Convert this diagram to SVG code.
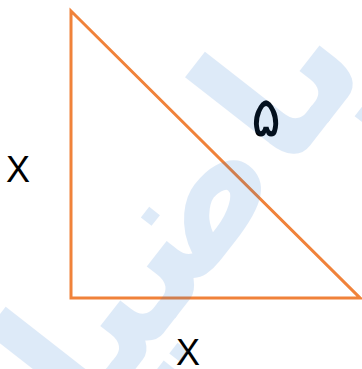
<svg xmlns="http://www.w3.org/2000/svg" width="362" height="369" viewBox="0 0 362 369">
<style>
.lbl{font-family:"Liberation Sans",Arial,sans-serif;font-size:36px;fill:#000}
.wm{font-family:"DejaVu Sans",sans-serif;font-weight:bold;font-size:185px;fill:#1a6fd0}
</style>
<rect width="362" height="369" fill="#fff"/>
<g id="triangle">
<polygon points="71,11 71,298 360,298" fill="none" stroke="#f0823a" stroke-width="3" stroke-linejoin="miter"/>
</g>
<g id="labels">
<text class="lbl" x="6" y="182">X</text>
<text class="lbl" x="176" y="365">X</text>
<text x="266" y="136" text-anchor="middle" style="font-family:'DejaVu Sans',sans-serif;font-size:56px">۵</text>
</g>
<g id="watermark" opacity="0.14">
<text class="wm" x="0" y="0" transform="translate(205,280) rotate(-52)" text-anchor="middle" direction="rtl">ریاضیات</text>
</g>
</svg>
